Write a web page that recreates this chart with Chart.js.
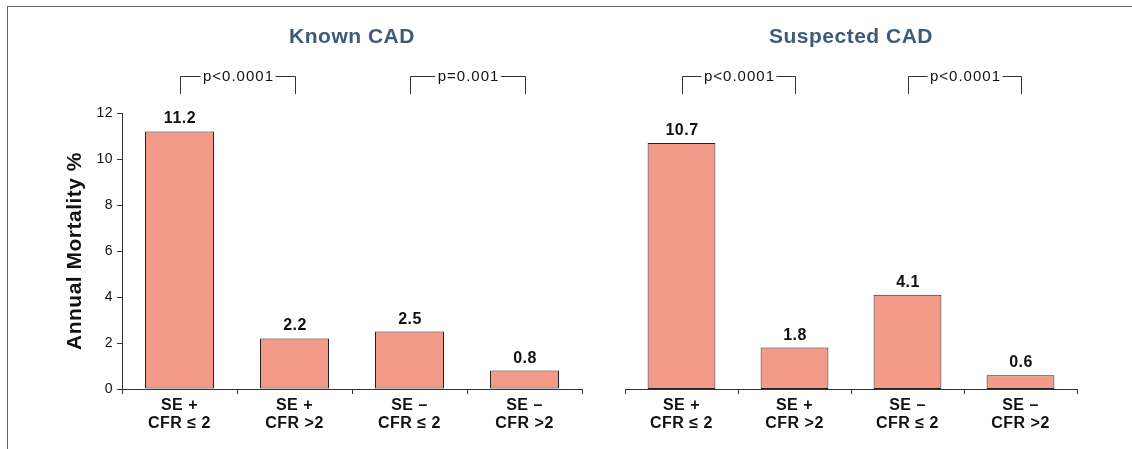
<!DOCTYPE html>
<html>
<head>
<meta charset="utf-8">
<script src="https://cdn.jsdelivr.net/npm/chart.js@4"></script>
<style>
  html, body { margin: 0; padding: 0; background: #ffffff; }
  body { width: 1132px; height: 449px; position: relative; overflow: hidden; }
  #frame { position: absolute; left: 7px; top: 6px; width: 1140px; height: 460px;
           border-top: 1px solid #666; border-left: 1px solid #666; }
  canvas { position: absolute; top: 0; }
  #c1 { left: 0; }
  #c2 { left: 600px; }
</style>
</head>
<body>
<div id="frame"></div>
<canvas id="c1" width="600" height="449"></canvas>
<canvas id="c2" width="532" height="449"></canvas>
<script>
const categories = [["SE +", "CFR \u2264 2"], ["SE +", "CFR >2"], ["SE \u2013", "CFR \u2264 2"], ["SE \u2013", "CFR >2"]];
const knownCAD = [11.2, 2.2, 2.5, 0.8];
const suspectedCAD = [10.7, 1.8, 4.1, 0.6];
const panelTitles = ["Known CAD", "Suspected CAD"];
const knownPValues = ["p<0.0001", "p=0.001"];
const suspectedPValues = ["p<0.0001", "p<0.0001"];
const yMin = 0, yMax = 12, yStep = 2;
const yTitle = "Annual Mortality %";

const FONT = "'Liberation Sans', Arial, Helvetica, sans-serif";
const BAR = "#f49a89";
const EDGE = "#222222";
const AXIS = "#333333";
const TITLE_COLOR = "#3d5a7a";

function makePlugin(title, pvals) {
  return {
    id: 'annot',
    beforeDraw(chart) { chart.ctx.letterSpacing = '0.5px'; },
    afterDraw(chart) {
      const ctx = chart.ctx;
      const ca = chart.chartArea;
      const meta = chart.getDatasetMeta(0);
      const data = chart.data.datasets[0].data;
      ctx.save();
      ctx.letterSpacing = '0.5px';
      // panel title
      ctx.fillStyle = TITLE_COLOR;
      ctx.font = "bold 21px " + FONT;
      ctx.textAlign = 'center';
      ctx.textBaseline = 'alphabetic';
      ctx.fillText(title, (ca.left + ca.right) / 2, 43);
      // value labels
      ctx.fillStyle = '#111';
      ctx.font = "bold 16px " + FONT;
      meta.data.forEach((bar, i) => {
        ctx.fillText(data[i].toFixed(1), bar.x + 0.5, bar.y - 8);
      });
      // p-value brackets
      ctx.letterSpacing = '1px';
      ctx.font = "15px " + FONT;
      ctx.strokeStyle = '#333';
      ctx.lineWidth = 1;
      pvals.forEach((txt, k) => {
        const x1 = Math.round(meta.data[2 * k].x) + 0.5;
        const x2 = Math.round(meta.data[2 * k + 1].x) + 0.5;
        const yt = 76.5, yb = 94;
        const w = ctx.measureText(txt).width;
        const cx = (x1 + x2) / 2;
        const g = 2;
        ctx.beginPath();
        ctx.moveTo(x1, yb); ctx.lineTo(x1, yt); ctx.lineTo(cx - w / 2 - g, yt);
        ctx.moveTo(cx + w / 2 + g, yt); ctx.lineTo(x2, yt); ctx.lineTo(x2, yb);
        ctx.stroke();
        ctx.fillStyle = '#111';
        ctx.textAlign = 'center';
        ctx.fillText(txt, cx + 0.5, 81);
      });
      ctx.restore();
    }
  };
}

function makeChart(id, values, title, pvals, showY, padLeft, padRight) {
  return new Chart(document.getElementById(id), {
    type: 'bar',
    data: {
      labels: categories,
      datasets: [{
        data: values,
        backgroundColor: BAR,
        borderColor: EDGE,
        borderWidth: 1,
        borderSkipped: false,
        categoryPercentage: 1.0,
        barPercentage: 0.6
      }]
    },
    options: {
      responsive: false,
      animation: false,
      devicePixelRatio: 1,
      layout: { padding: { top: 113, left: padLeft, right: padRight, bottom: 0 } },
      plugins: { legend: { display: false }, tooltip: { enabled: false }, title: { display: false } },
      scales: {
        x: {
          grid: { display: true, drawOnChartArea: false, drawTicks: true, tickLength: 5, color: AXIS, offset: true },
          border: { display: true, color: AXIS, width: 1 },
          ticks: { color: '#111', font: { family: FONT, size: 16, weight: 'bold', lineHeight: 1.1 }, padding: 3, maxRotation: 0, autoSkip: false },
          afterFit(s) { s.height = 60; }
        },
        y: {
          display: showY,
          min: yMin, max: yMax,
          ticks: { stepSize: yStep, color: '#111', font: { family: FONT, size: 14 }, padding: 4 },
          grid: { display: true, drawOnChartArea: false, drawTicks: true, tickLength: 5, color: AXIS },
          border: { display: true, color: AXIS, width: 1 },
          title: { display: true, text: yTitle, color: '#111', font: { family: FONT, size: 21, weight: 'bold', lineHeight: 1.2 }, padding: { top: 63, bottom: 0 } },
          afterFit(s) { s.width = showY ? 122 : 0; }
        }
      }
    },
    plugins: [makePlugin(title, pvals)]
  });
}

makeChart('c1', knownCAD, panelTitles[0], knownPValues, true, 0, 18);
makeChart('c2', suspectedCAD, panelTitles[1], suspectedPValues, false, 25, 55);
</script>
</body>
</html>
